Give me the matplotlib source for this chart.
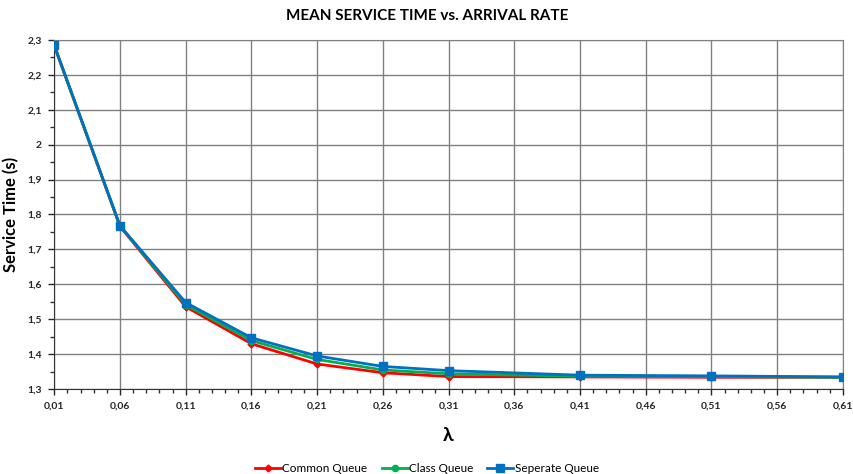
import numpy as np
import matplotlib
matplotlib.use("Agg")
import matplotlib.pyplot as plt
from matplotlib.ticker import MultipleLocator, FuncFormatter

# --- data ---
lam = [0.01, 0.06, 0.11, 0.16, 0.21, 0.26, 0.31, 0.41, 0.51, 0.61]
common_q = [2.283, 1.766, 1.536, 1.430, 1.372, 1.347, 1.336, 1.335, 1.334, 1.334]
class_q = [2.284, 1.767, 1.542, 1.439, 1.385, 1.355, 1.344, 1.337, 1.336, 1.334]
separate_q = [2.285, 1.768, 1.548, 1.447, 1.395, 1.365, 1.353, 1.340, 1.338, 1.335]

series = [
    ("Common Queue", common_q, "#ff0000", "D", 3.5),
    ("Class Queue", class_q, "#00b050", "o", 4.5),
    ("Seperate Queue", separate_q, "#0070c0", "s", 6),
]

plt.rcParams['font.family'] = ['Lato', 'DejaVu Sans']

fig = plt.figure(figsize=(8.54, 4.74), dpi=100)
ax = fig.add_axes([0.0635, 0.179, 0.9235, 0.737])

for name, vals, col, mk, ms in series:
    ax.plot(lam, vals, color=col, marker=mk, markersize=ms, linewidth=2,
            label=name, zorder=3)

ax.set_xlim(lam[0], lam[-1])
ax.set_ylim(1.3, 2.3)
# x ticks start at the first lambda, every 0.05
ax.xaxis.set_major_locator(MultipleLocator(0.05, offset=lam[0]))
ax.xaxis.set_minor_locator(MultipleLocator(0.01))
ax.yaxis.set_major_locator(MultipleLocator(0.1))
ax.yaxis.set_minor_locator(MultipleLocator(0.05))

def comma_x(v, pos):
    return f"{v:.2f}".replace(".", ",")

def comma_y(v, pos):
    s = f"{v:.1f}".rstrip("0").rstrip(".")
    return s.replace(".", ",")

ax.xaxis.set_major_formatter(FuncFormatter(comma_x))
ax.yaxis.set_major_formatter(FuncFormatter(comma_y))

ax.grid(True, which="major", color="#808080", linewidth=1)
ax.tick_params(axis="both", which="major", labelsize=7.5, length=4, width=1,
               colors="#262626", direction="out", pad=5)
ax.tick_params(axis="both", which="minor", length=3, width=1, color="#333333",
               direction="out")
for lbl in ax.get_xticklabels() + ax.get_yticklabels():
    lbl.set_fontweight("bold")

ax.spines["top"].set_color("#808080")
ax.spines["right"].set_color("#808080")
ax.spines["left"].set_color("#333333")
ax.spines["bottom"].set_color("#333333")

fig.suptitle("MEAN SERVICE TIME vs. ARRIVAL RATE", y=0.982, fontsize=11,
             fontweight="bold")
ax.set_ylabel("Service Time (s)", fontsize=12, fontweight="bold", labelpad=6)
ax.set_xlabel("λ", fontsize=14, fontweight="bold", labelpad=12)

fig.legend(loc="lower center", bbox_to_anchor=(0.5, -0.022), ncol=3,
           frameon=False, fontsize=8.5, handlelength=2.2, columnspacing=1.2,
           handletextpad=0.1)

fig.savefig("out.png", dpi=100)
